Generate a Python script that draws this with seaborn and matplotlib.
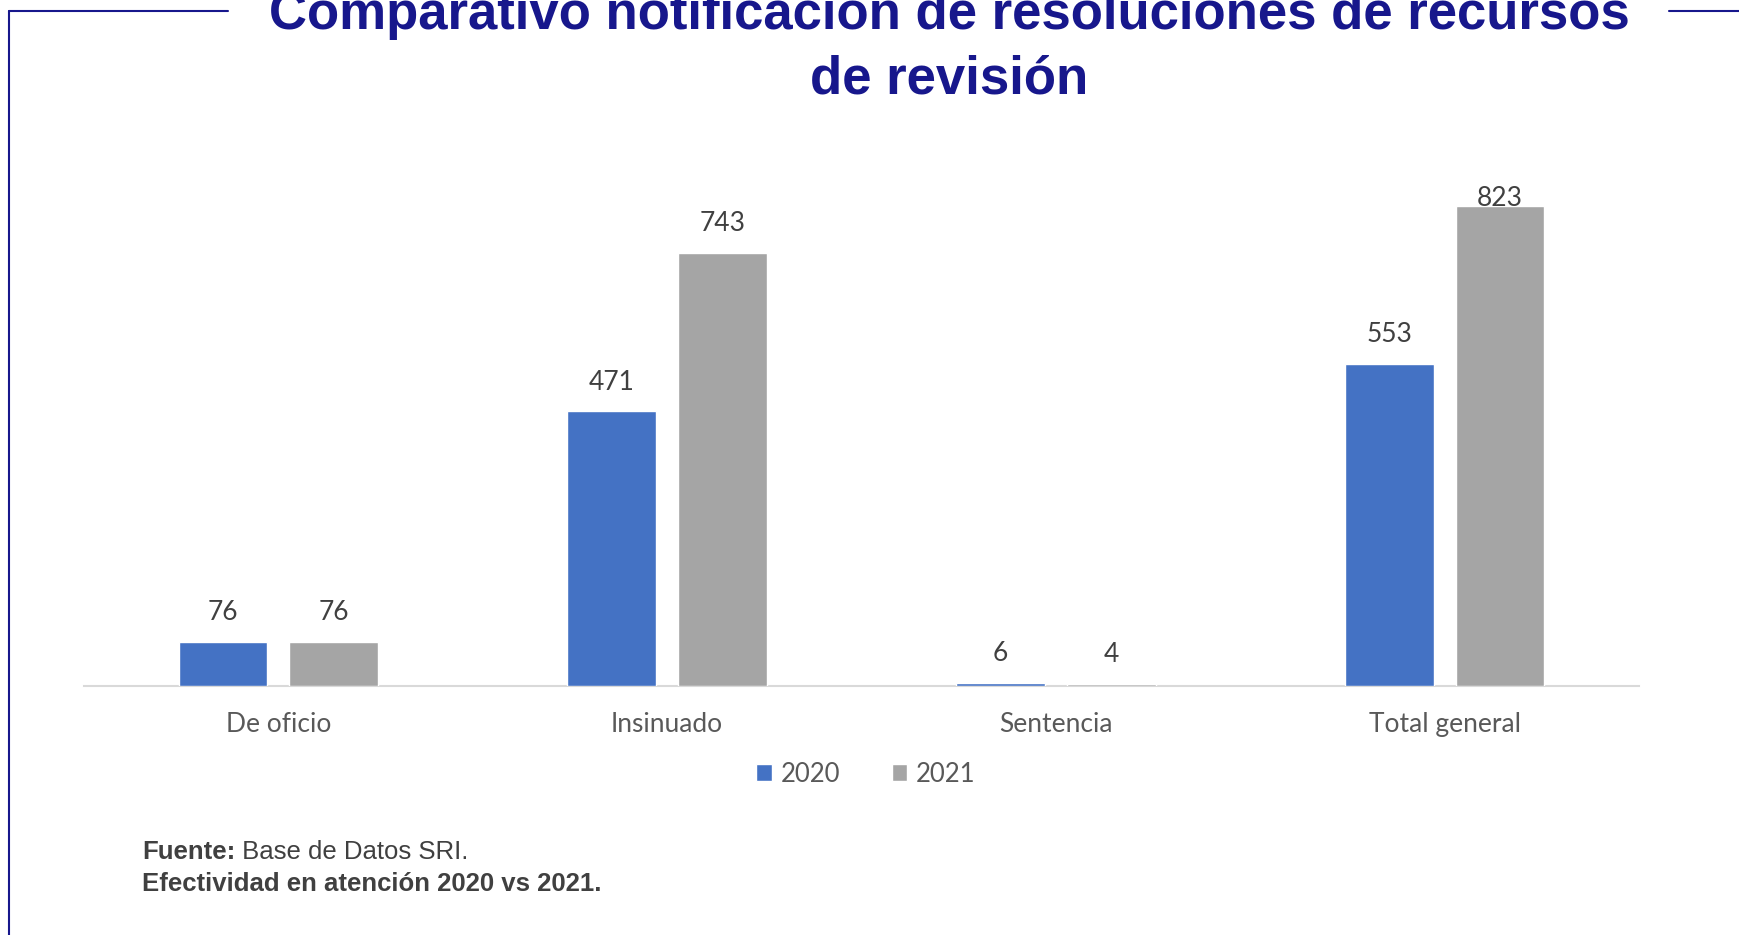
import numpy as np
import pandas as pd
import matplotlib
matplotlib.use('Agg')
import matplotlib.pyplot as plt
import seaborn as sns

categories = ['De oficio', 'Insinuado', 'Sentencia', 'Total general']
years = ['2020', '2021']
values_2020 = [76, 471, 6, 553]
values_2021 = [76, 743, 4, 823]

navy = '#17178C'
palette = {'2020': '#4472C4', '2021': '#A5A5A5'}

df = pd.DataFrame({
    'categoria': categories * 2,
    'anio': ['2020'] * 4 + ['2021'] * 4,
    'valor': values_2020 + values_2021,
})

sns.set_theme(style='white')
plt.rcParams['font.family'] = ['Lato', 'DejaVu Sans']

fig = plt.figure(figsize=(17.39, 9.35), dpi=100)
ax = fig.add_axes([0.0483, 0.2663, 0.8942, 0.5305])

sns.barplot(data=df, x='categoria', y='valor', hue='anio', palette=palette,
            width=0.57, gap=0.2, ax=ax, legend=True, saturation=1)
for p in ax.patches:
    p.set_zorder(3)

ymax = 851
ax.set_xlim(-0.5, 3.5)
ax.set_ylim(0, ymax)
ax.set_xlabel('')
ax.set_ylabel('')
ax.set_yticks([])
for s in ['top', 'right', 'left']:
    ax.spines[s].set_visible(False)
ax.spines['bottom'].set_color('#D9D9D9')
ax.spines['bottom'].set_linewidth(1.5)
ax.spines['bottom'].set_zorder(2)
ax.tick_params(axis='x', length=0, labelsize=19, labelcolor='#595959', pad=19)

# data labels
for cont in ax.containers:
    for bar in cont:
        v = bar.get_height()
        x = bar.get_x() + bar.get_width() / 2
        y = min(v + 50, 837)
        ax.text(x, y, f'{int(v)}', ha='center', va='center', fontsize=19,
                color='#404040', zorder=4)

leg = ax.legend(loc='center', bbox_to_anchor=(0.498, 1 - 774 / 935),
                bbox_transform=fig.transFigure, ncol=2, frameon=False,
                fontsize=18.5, handlelength=0.6, handleheight=0.6,
                columnspacing=2.0, handletextpad=0.35)
for t in leg.get_texts():
    t.set_color('#595959')

# title
title_font = ['Liberation Sans', 'DejaVu Sans']
fig.text(0.546, 1 - 15 / 935, 'Comparativo notificación de resoluciones de recursos',
         ha='center', va='center', fontsize=38, fontweight='bold', color=navy,
         family=title_font)
fig.text(0.546, 1 - 80 / 935, 'de revisión', ha='center', va='center',
         fontsize=38, fontweight='bold', color=navy, family=title_font)

# frame lines
fig.add_artist(plt.Line2D([9 / 1739, 9 / 1739], [1 - 11 / 935, 0], color=navy,
                          lw=1.5, transform=fig.transFigure))
fig.add_artist(plt.Line2D([9 / 1739, 228 / 1739], [1 - 11 / 935, 1 - 11 / 935],
                          color=navy, lw=1.5, transform=fig.transFigure))
fig.add_artist(plt.Line2D([1669 / 1739, 1], [1 - 11 / 935, 1 - 11 / 935],
                          color=navy, lw=1.5, transform=fig.transFigure))

# footer
foot_font = ['Liberation Sans', 'DejaVu Sans']
t1 = fig.text(142 / 1739, 1 - 852 / 935, 'Fuente:', ha='left', va='center',
              fontsize=18.5, fontweight='bold', color='#404040', family=foot_font)
ax.annotate(' Base de Datos SRI.', xy=(1, 0), xycoords=t1, ha='left', va='bottom',
            fontsize=18.5, color='#404040', family=foot_font, annotation_clip=False)
fig.text(142 / 1739, 1 - 884 / 935, 'Efectividad en atención 2020 vs 2021.',
         ha='left', va='center', fontsize=18.5, fontweight='bold', color='#404040',
         family=foot_font)

fig.savefig('out.png', dpi=100, facecolor='white')
